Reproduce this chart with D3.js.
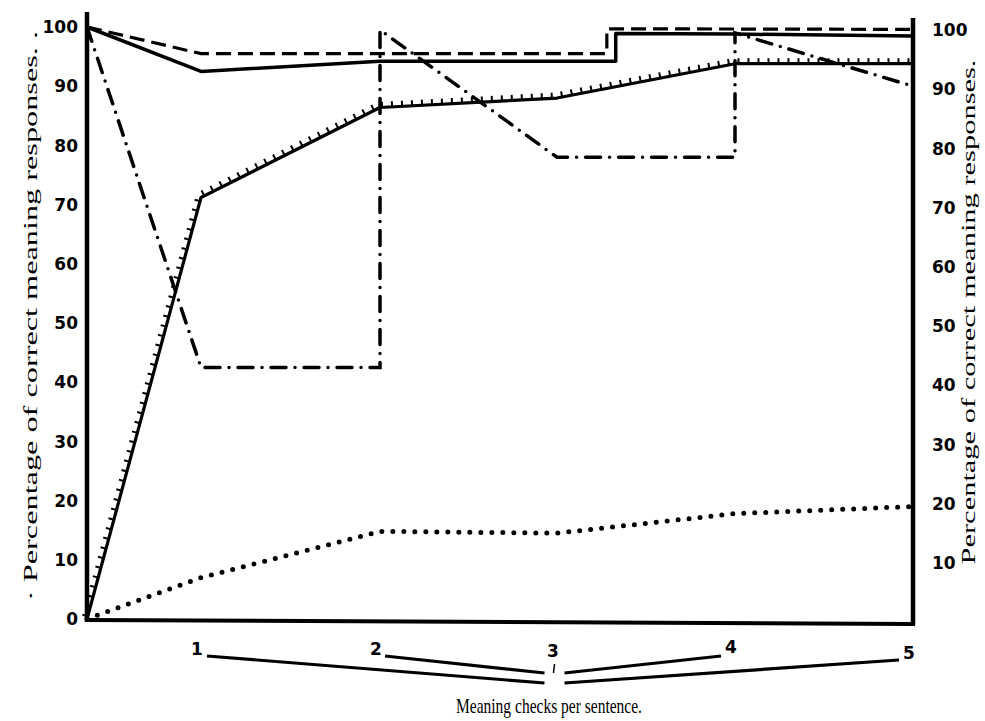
<!DOCTYPE html>
<html>
<head>
<meta charset="utf-8">
<script src="https://cdn.jsdelivr.net/npm/d3@7"></script>
<style>
  html, body { margin: 0; padding: 0; background: #fff; }
</style>
</head>
<body>
<div id="chart"></div>
<script>
// ── Data ─────────────────────────────────────────────
var checkPositions = [0, 1, 2, 3, 4, 5];
var xTickLabels    = ['1', '2', '3', '4', '5'];
var leftTicks      = [0, 10, 20, 30, 40, 50, 60, 70, 80, 90, 100];
var rightTicks     = [10, 20, 30, 40, 50, 60, 70, 80, 90, 100];

var solidX    = [0, 1, 2, 3.33, 3.33, 4, 5];
var solidY    = [100, 92.5, 94.2, 94.2, 98.9, 98.8, 98.5];
var dashedX   = [0, 1, 2, 3.28, 3.28, 5];
var dashedY   = [100, 95.5, 95.5, 95.5, 99.7, 99.6];
var dashDotX  = [0, 1, 2, 2, 3, 4, 4, 5];
var dashDotY  = [100, 42.5, 42.5, 99.5, 78, 78, 99, 90];
var hatchedX  = [0, 1, 2, 3, 4, 5];
var hatchedY  = [0, 71.2, 86.4, 88, 93.8, 93.8];
var dottedX   = [0, 1, 2, 3, 4, 5];
var dottedY   = [0, 7, 14.8, 14.5, 17.8, 19];

var W = 985, H = 721;
var INK = '#000';

var svg = d3.select('#chart').append('svg')
  .attr('width', W)
  .attr('height', H)
  .style('display', 'block');

// the print has a narrow first interval, so the x scale is piecewise
var x = d3.scaleLinear()
  .domain(checkPositions)
  .range([87, 201, 380, 557, 735, 913]);

var y = d3.scaleLinear()
  .domain([0, 100])
  .range([619, 27]);

var line = d3.line()
  .x(function(d) { return x(d[0]); })
  .y(function(d) { return y(d[1]); });

function pairs(xs, ys) {
  return xs.map(function(v, i) { return [v, ys[i]]; });
}

// ── Frame ────────────────────────────────────────────
var frame = svg.append('g');
frame.append('line')
  .attr('x1', x(0)).attr('y1', 12)
  .attr('x2', x(0)).attr('y2', y(0) + 3)
  .attr('stroke', INK).attr('stroke-width', 4.5);
frame.append('line')
  .attr('x1', x(5)).attr('y1', 18)
  .attr('x2', x(5)).attr('y2', y(0) + 6)
  .attr('stroke', INK).attr('stroke-width', 4.5);
frame.append('line')
  .attr('x1', x(0) - 2).attr('y1', y(0) + 1)
  .attr('x2', x(5) + 2).attr('y2', y(0) + 5)
  .attr('stroke', INK).attr('stroke-width', 4);

// ── Tick labels ──────────────────────────────────────
var tickFont = 'DejaVu Sans, sans-serif';

svg.append('g').selectAll('text')
  .data(leftTicks)
  .enter().append('text')
  .attr('x', 78)
  .attr('y', function(d) { return y(d); })
  .attr('dy', '0.36em')
  .attr('text-anchor', 'end')
  .attr('font-family', tickFont)
  .attr('font-weight', 'bold')
  .attr('font-size', '17px')
  .attr('fill', INK)
  .text(function(d) { return d; });

svg.append('g').selectAll('text')
  .data(rightTicks)
  .enter().append('text')
  .attr('x', 932)
  .attr('y', function(d) { return y(d) + 3; })
  .attr('dy', '0.36em')
  .attr('text-anchor', 'start')
  .attr('font-family', tickFont)
  .attr('font-weight', 'bold')
  .attr('font-size', '17px')
  .attr('fill', INK)
  .text(function(d) { return d; });

var xLabelDy = [0, 0, 2, -2, 4];
svg.append('g').selectAll('text')
  .data(xTickLabels)
  .enter().append('text')
  .attr('x', function(d, i) { return x(i + 1) - 4; })
  .attr('y', function(d, i) { return 655 + xLabelDy[i]; })
  .attr('text-anchor', 'middle')
  .attr('font-family', tickFont)
  .attr('font-weight', 'bold')
  .attr('font-size', '17px')
  .attr('fill', INK)
  .text(function(d) { return d; });

// bracket strokes joining the tick numbers to the axis title
var hubX = (x(3) + x(2)) / 2 + 86;
var brackets = svg.append('g')
  .attr('stroke', INK).attr('stroke-width', 3.2).attr('fill', 'none');
brackets.append('line').attr('x1', x(1) + 6).attr('y1', 656).attr('x2', hubX - 10).attr('y2', 683);
brackets.append('line').attr('x1', x(2) + 5).attr('y1', 656).attr('x2', hubX - 10).attr('y2', 673);
brackets.append('line').attr('x1', x(4) - 14).attr('y1', 656).attr('x2', hubX + 10).attr('y2', 673);
brackets.append('line').attr('x1', x(5) - 14).attr('y1', 660).attr('x2', hubX + 10).attr('y2', 683);
brackets.append('line').attr('x1', hubX).attr('y1', 664).attr('x2', hubX - 1).attr('y2', 673)
  .attr('stroke-width', 1.5);

// ── Axis titles ──────────────────────────────────────
var serif = 'Liberation Serif, Times New Roman, serif';

svg.append('text')
  .attr('transform', 'translate(37,316) rotate(-90)')
  .attr('text-anchor', 'middle')
  .attr('font-family', serif)
  .attr('font-size', '19px')
  .attr('fill', INK)
  .attr('textLength', 570)
  .attr('lengthAdjust', 'spacingAndGlyphs')
  .text('· Percentage of correct meaning responses. .');

svg.append('text')
  .attr('transform', 'translate(975,312) rotate(-90)')
  .attr('text-anchor', 'middle')
  .attr('font-family', serif)
  .attr('font-size', '19px')
  .attr('fill', INK)
  .attr('textLength', 505)
  .attr('lengthAdjust', 'spacingAndGlyphs')
  .text('Percentage of correct meaning responses.');

svg.append('text')
  .attr('x', 549)
  .attr('y', 713)
  .attr('text-anchor', 'middle')
  .attr('font-family', serif)
  .attr('font-size', '22px')
  .attr('fill', INK)
  .attr('textLength', 186)
  .attr('lengthAdjust', 'spacingAndGlyphs')
  .text('Meaning checks per sentence.');

// ── Series ───────────────────────────────────────────
var series = svg.append('g').attr('fill', 'none').attr('stroke', INK);

series.append('path')
  .attr('d', line(pairs(dottedX, dottedY)))
  .attr('stroke-width', 5)
  .attr('stroke-linecap', 'round')
  .attr('stroke-dasharray', '0,11');

series.append('path')
  .attr('d', line(pairs(hatchedX, hatchedY)))
  .attr('stroke-width', 3.2)
  .attr('stroke-linejoin', 'round');
series.append('path')
  .attr('d', line(pairs(hatchedX, hatchedY)))
  .attr('transform', 'translate(-2,-2.5)')
  .attr('stroke-width', 6)
  .attr('stroke-dasharray', '2,8');

series.append('path')
  .attr('d', line(pairs(dashDotX, dashDotY)))
  .attr('stroke-width', 3.5)
  .attr('stroke-linecap', 'round')
  .attr('stroke-dasharray', '15,9,0,9');

series.append('path')
  .attr('d', line(pairs(dashedX, dashedY)))
  .attr('stroke-width', 3.2)
  .attr('stroke-dasharray', '15,7');

series.append('path')
  .attr('d', line(pairs(solidX, solidY)))
  .attr('stroke-width', 3.5)
  .attr('stroke-linejoin', 'round');
</script>
</body>
</html>
